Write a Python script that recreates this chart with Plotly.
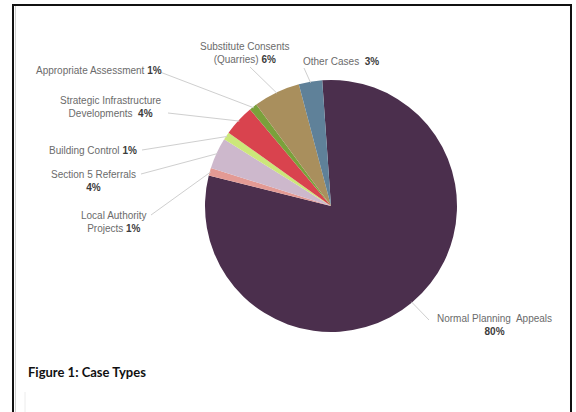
import math
import plotly.graph_objects as go

# ---- data ----
categories = [
    "Normal Planning Appeals",
    "Local Authority Projects",
    "Section 5 Referrals",
    "Building Control",
    "Strategic Infrastructure Developments",
    "Appropriate Assessment",
    "Substitute Consents (Quarries)",
    "Other Cases",
]
shares = [80, 1, 4, 1, 4, 1, 6, 3]
pct_labels = ["80%", "1%", "4%", "1%", "4%", "1%", "6%", "3%"]
colors = ["#4b2f4d", "#e39a94", "#cdb8cc", "#cce77a", "#d9434e", "#7aa13b", "#a98f5d", "#5f8199"]

# ---- layout (pixels, from top-left) ----
W, H = 576, 412
CX, CY, R = 331, 206, 126
ROT = -4

# label text lines and where the text sits / where its leader starts
label_layout = [
    # (text lines, pct on same line?, text center x, text center y, leader start x, leader start y)
    (["Normal Planning  Appeals"], False, 494, 325, 429, 320),
    (["Local Authority", "Projects"], True, 114, 222, 151, 215),
    (["Section 5 Referrals"], False, 93, 181, 141, 174),
    (["Building Control"], True, 93, 150, 142, 150),
    (["Strategic Infrastructure", "Developments "], True, 111, 107, 168, 113),
    (["Appropriate Assessment"], True, 99, 70, 160, 72),
    (["Substitute Consents", "(Quarries)"], True, 245, 53, 250, 67),
    (["Other Cases "], True, 341, 61, 304, 68),
]

fig = go.Figure(go.Pie(
    labels=categories,
    values=shares,
    sort=False,
    direction="clockwise",
    rotation=ROT,
    marker=dict(colors=colors, line=dict(width=0)),
    textinfo="none",
    hoverinfo="label+percent",
    showlegend=False,
    domain=dict(x=[(CX - R) / W, (CX + R) / W], y=[(H - CY - R) / H, (H - CY + R) / H]),
))

total = sum(shares)
cum = 0
annotations = []
shapes = []
for i, v in enumerate(shares):
    mid = ROT + 360 * (cum + v / 2) / total
    cum += v
    a = math.radians(mid)
    ex = CX + (R - 1) * math.sin(a)
    ey = CY - (R - 1) * math.cos(a)
    lines, inline, tx, ty, sx, sy = label_layout[i]
    pct = "<b><span style='color:#3c3c3c'>%s</span></b>" % pct_labels[i]
    if inline:
        txt = "<br>".join(lines[:-1] + [lines[-1] + " " + pct])
    else:
        txt = "<br>".join(lines + [pct])
    annotations.append(dict(
        x=tx / W, y=1 - ty / H, xref="paper", yref="paper",
        text=txt, showarrow=False, align="center",
        font=dict(family="Liberation Sans, Arial, sans-serif", size=10, color="#6b6b6b"),
        xanchor="center", yanchor="middle",
    ))
    shapes.append(dict(
        type="line", xref="paper", yref="paper",
        x0=sx / W, y0=1 - sy / H, x1=ex / W, y1=1 - ey / H,
        line=dict(color="#cfcfcf", width=1),
    ))

# figure caption
annotations.append(dict(
    x=26 / W, y=1 - 372 / H, xref="paper", yref="paper",
    text="<b>Figure 1: Case Types</b>", showarrow=False,
    xanchor="left", yanchor="middle",
    font=dict(family="Lato, Liberation Sans, sans-serif", size=13, color="#111111"),
))

# frame
shapes += [
    dict(type="path", xref="paper", yref="paper",
         path="M %f,%f L %f,%f L %f,%f L %f,%f" % (13 / W, 0, 13 / W, 1 - 5 / H, 571 / W, 1 - 5 / H, 571 / W, 0),
         line=dict(color="#111111", width=2)),
    dict(type="line", xref="paper", yref="paper", x0=15.5 / W, x1=15.5 / W, y0=0, y1=1 - 6 / H,
         line=dict(color="#d0d0d0", width=1)),
    dict(type="line", xref="paper", yref="paper", x0=25 / W, x1=25 / W, y0=0, y1=1 - 392 / H,
         line=dict(color="#ececec", width=1)),
]

fig.update_layout(
    width=W, height=H,
    margin=dict(l=0, r=0, t=0, b=0),
    paper_bgcolor="white", plot_bgcolor="white",
    annotations=annotations, shapes=shapes,
)
fig.write_html(
    "out.html",
    config={"displayModeBar": False},
    post_script="document.body.style.margin='0';document.body.style.overflow='hidden';",
)
